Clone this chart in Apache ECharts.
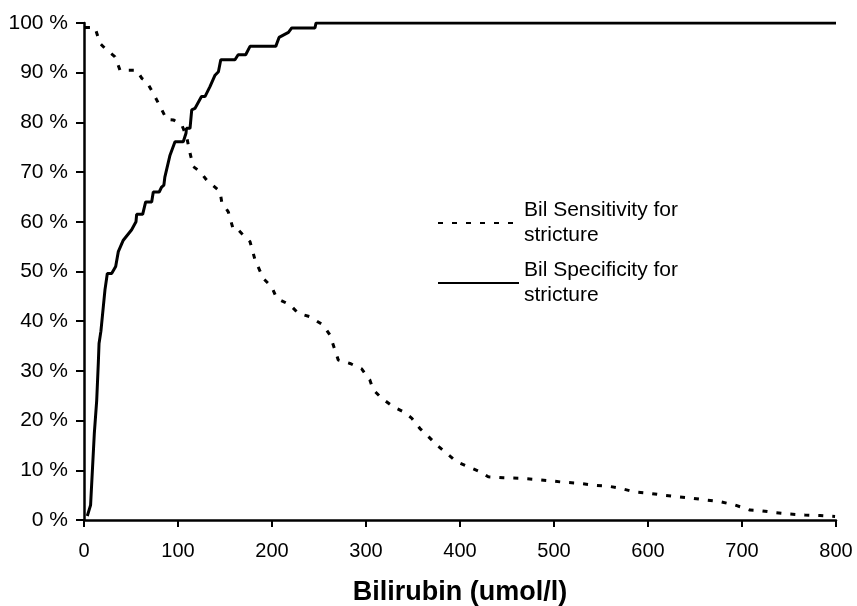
<!DOCTYPE html>
<html>
<head>
<meta charset="utf-8">
<script src="https://cdn.jsdelivr.net/npm/echarts@6/dist/echarts.min.js"></script>
<style>html,body{margin:0;padding:0;background:#fff;}#c{width:857px;height:606px;}</style>
</head>
<body>
<div id="c"></div>
<script>
var xTicks = [0, 100, 200, 300, 400, 500, 600, 700, 800];
var sensBili = [1, 11.7, 17, 22.3, 33, 38.3, 56, 61.4, 66.7, 75.5, 80.9, 88, 95, 104, 109.2, 112.8, 116.3, 123.4, 130.5, 144.7, 146.5, 153.5, 158.9, 164, 171, 176.6, 182, 190.8, 199.7, 205, 219, 228, 240.4, 254.6, 261.7, 270.5, 283, 295.4, 304, 307.8, 316.7, 329, 339.7, 348.6, 357.4, 366.3, 375.2, 385.8, 396.5, 408.8, 421.3, 430, 446, 464, 478, 495.7, 510, 526, 542, 557.8, 570.2, 584.4, 600.3, 616.3, 630.5, 646.5, 662.4, 676.6, 692.6, 703.2, 708.5, 719, 735, 751, 767, 783, 799];
var sensPct = [99.1, 99.1, 95.9, 94.9, 93.2, 90.5, 90.5, 88.9, 88.2, 85.2, 83.2, 80.6, 80.5, 79.5, 77.1, 73.8, 71.1, 70.1, 68.4, 66.1, 64, 62, 58.4, 58.4, 57, 56, 52.3, 48.6, 46.9, 44.6, 43.3, 41.6, 40.9, 39.2, 37.2, 32.2, 31.5, 30.4, 28.2, 26.2, 24.5, 22.8, 21.8, 20.5, 18.4, 16.8, 15.1, 13.4, 11.7, 10.7, 9.7, 8.7, 8.5, 8.4, 8.2, 7.9, 7.6, 7.4, 7.0, 6.8, 6.4, 5.7, 5.4, 5.0, 4.7, 4.4, 4.0, 3.7, 3.0, 2.35, 2.0, 1.9, 1.5, 1.2, 1.0, 0.9, 0.7];
var specBili = [3.5, 7, 11, 13.5, 15.2, 16, 18, 22.3, 24.8, 29.4, 33.7, 36.5, 41.8, 50.7, 55.3, 56, 62.4, 65.6, 72, 73.7, 80, 82.6, 85, 86, 91.5, 96.8, 105.6, 108.5, 109, 112.8, 114.6, 118, 125, 128.7, 134, 139.4, 143, 145.5, 160.6, 164, 172, 176.6, 204, 207.5, 217.5, 221, 245.7, 246.8, 800];
var specPct = [0.8, 3, 17.5, 24, 31.5, 35.5, 38, 46.3, 49.6, 49.6, 51, 54, 56.3, 58.4, 60, 61.5, 61.5, 64, 64, 66, 66, 67, 67.4, 69, 73.4, 76.1, 76.1, 77.8, 78.8, 78.8, 82.5, 82.8, 85.2, 85.2, 87.2, 89.5, 90.2, 92.6, 92.6, 93.6, 93.6, 95.3, 95.3, 97.1, 98.1, 99.0, 99.0, 100, 100];
var sensName = 'Bil Sensitivity for stricture';
var specName = 'Bil Specificity for stricture';

function zip(a, b) { return a.map(function (v, i) { return [v, b[i]]; }); }

var font = '"Liberation Sans", Arial, sans-serif';
var legendText = {
  fontFamily: font, fontSize: 21, color: '#000', lineHeight: 25, padding: [25, 0, 0, 0]
};
function legendFmt(n) { return n.replace(' stricture', '\nstricture'); }
var legendCommon = {
  left: 437, padding: 0, itemWidth: 81, itemHeight: 14, itemGap: 0,
  textStyle: legendText, formatter: legendFmt,
  itemStyle: { color: 'rgba(0,0,0,0)', borderWidth: 0, opacity: 0 }
};
var chart = echarts.init(document.getElementById('c'), null, { renderer: 'canvas' });
chart.setOption({
  animation: false,
  backgroundColor: '#fff',
  grid: { left: 84, right: 21, top: 23, bottom: 86, containLabel: false, outerBoundsMode: 'none' },
  legend: [
    Object.assign({ data: [sensName], top: 185.5 }, legendCommon),
    Object.assign({ data: [specName], top: 245.5 }, legendCommon)
  ],
  xAxis: {
    type: 'value', min: 0, max: 800, interval: 100,
    name: 'Bilirubin (umol/l)', nameLocation: 'middle', nameGap: 59,
    nameTextStyle: { fontFamily: font, fontSize: 27, fontWeight: 'bold', color: '#000' },
    axisLine: { show: true, lineStyle: { color: '#000', width: 2.5 } },
    axisTick: { show: true, inside: false, length: 7, lineStyle: { color: '#000', width: 2 } },
    axisLabel: { fontFamily: font, fontSize: 20, color: '#000', margin: 21,
      formatter: function (v) { return xTicks.indexOf(v) >= 0 ? String(v) : ''; } },
    splitLine: { show: false }
  },
  yAxis: {
    type: 'value', min: 0, max: 100, interval: 10,
    axisLine: { show: true, lineStyle: { color: '#000', width: 2.5 } },
    axisTick: { show: true, inside: false, length: 8, lineStyle: { color: '#000', width: 2 } },
    axisLabel: { fontFamily: font, fontSize: 21, color: '#000', margin: 16, formatter: '{value} %' },
    splitLine: { show: false }
  },
  series: [
    { name: sensName, type: 'line', data: zip(sensBili, sensPct), symbol: 'none', showSymbol: false,
      lineStyle: { color: '#000', width: 3, type: [5, 9] }, itemStyle: { color: '#000' } },
    { name: specName, type: 'line', data: zip(specBili, specPct), symbol: 'none', showSymbol: false,
      lineStyle: { color: '#000', width: 3, type: 'solid' }, itemStyle: { color: '#000' } }
  ]
});
</script>
</body>
</html>
